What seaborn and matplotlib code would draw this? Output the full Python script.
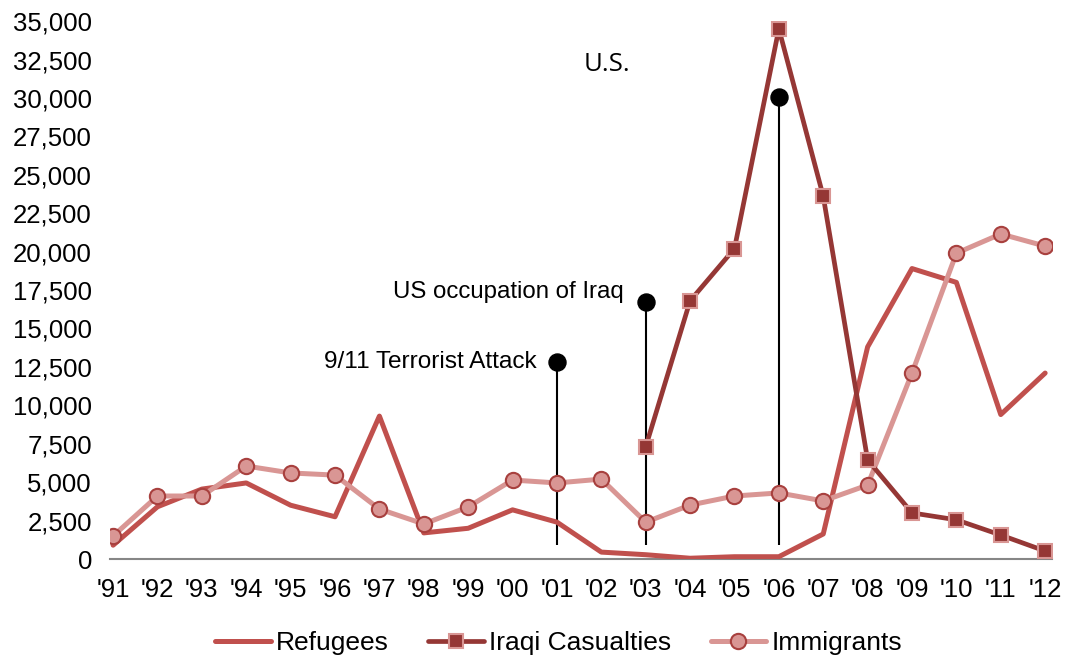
import numpy as np
import pandas as pd
import matplotlib
matplotlib.use("Agg")
import matplotlib.pyplot as plt
import seaborn as sns
from matplotlib.ticker import FuncFormatter

years = ["'91", "'92", "'93", "'94", "'95", "'96", "'97", "'98", "'99", "'00", "'01",
         "'02", "'03", "'04", "'05", "'06", "'07", "'08", "'09", "'10", "'11", "'12"]
refugees = [900, 3400, 4550, 4950, 3500, 2750, 9300, 1700, 2000, 3200, 2400,
            450, 280, 50, 150, 150, 1630, 13800, 18900, 18000, 9400, 12100]
casualties = [np.nan] * 12 + [7300, 16800, 20200, 34500, 23600, 6450, 3000, 2550, 1560, 520]
immigrants = [1500, 4100, 4100, 6050, 5600, 5460, 3250, 2280, 3390, 5140, 4950,
              5200, 2400, 3510, 4100, 4300, 3780, 4810, 12100, 19900, 21150, 20360]

event_labels = ["9/11 Terrorist Attack", "US occupation of Iraq", "U.S."]
event_years = ["'01", "'03", "'06"]
event_tops = [12800, 16700, 30050]
event_bottom = 900

sns.set_theme(style="white")
plt.rcParams['font.family'] = ['Liberation Sans', 'DejaVu Sans']
plt.rcParams['text.color'] = 'black'

fig = plt.figure(figsize=(10.7, 6.6), dpi=100)
ax = fig.add_axes([0.1028, 0.153, 0.983 - 0.1028, 0.968 - 0.153])

x = np.arange(len(years))
df = pd.DataFrame({"x": x, "Refugees": refugees, "Iraqi Casualties": casualties,
                   "Immigrants": immigrants})

c_ref = "#C0504D"
c_cas = "#953735"
c_imm = "#D99694"

# event markers
ev_x = [years.index(y) for y in event_years]
ax.vlines(ev_x, event_bottom, event_tops, color="black", lw=1.5, zorder=2)
ax.scatter(ev_x, event_tops, s=150, color="black", zorder=6)

sns.lineplot(data=df, x="x", y="Refugees", ax=ax, color=c_ref, lw=3.6,
             label="Refugees", zorder=3)
sns.lineplot(data=df, x="x", y="Iraqi Casualties", ax=ax, color=c_cas, lw=3.4,
             marker="s", markersize=10, markerfacecolor=c_cas, markeredgecolor=c_imm,
             markeredgewidth=1.5, label="Iraqi Casualties", zorder=5)
sns.lineplot(data=df, x="x", y="Immigrants", ax=ax, color=c_imm, lw=3.6,
             marker="o", markersize=11, markerfacecolor=c_imm, markeredgecolor="#A8403E",
             markeredgewidth=1.5, label="Immigrants", zorder=4)

ax.set_xlim(-0.07, 21.15)
ax.set_ylim(0, 35000)
ax.set_yticks(np.arange(0, 35001, 2500))
ax.yaxis.set_major_formatter(FuncFormatter(lambda v, p: f"{int(v):,}"))
ax.set_xticks(x)
ax.set_xticklabels(years)
ax.tick_params(axis="both", labelsize=18.5, length=0, colors="black")
ax.tick_params(axis="y", pad=13)
ax.tick_params(axis="x", pad=14)
ax.set_xlabel("")
ax.set_ylabel("")
for s in ["top", "right", "left"]:
    ax.spines[s].set_visible(False)
ax.spines["bottom"].set_color("#868686")
ax.spines["bottom"].set_linewidth(1.5)
ax.spines["bottom"].set_bounds(-0.07, 21.15)

# annotation texts
ax.text(ev_x[0] - 0.45, 12850, event_labels[0], ha="right", va="center", fontsize=17.6)
ax.text(ev_x[1] - 0.5, 17350, event_labels[1], ha="right", va="center", fontsize=17.3)
ax.text(ev_x[1] - 1.4, 32200, event_labels[2], ha="left", va="center", fontsize=18.5,
        family=["Open Sans", "DejaVu Sans"])

ax.get_legend().remove()
h, l = ax.get_legend_handles_labels()
fig.legend(h, l, loc="center", bbox_to_anchor=(0.522, 0.026), ncol=3, frameon=False,
           fontsize=19, handlelength=2.1, handletextpad=0.2, columnspacing=1.5)

fig.savefig("out.png", dpi=100)
